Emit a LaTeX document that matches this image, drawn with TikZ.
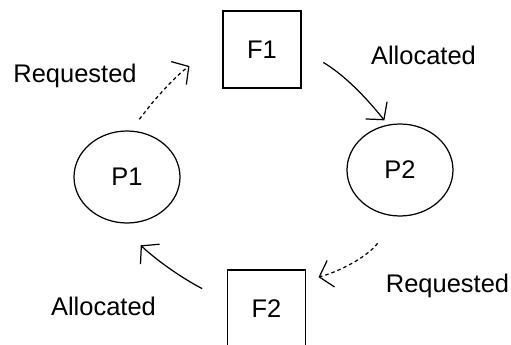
\documentclass[tikz,border=0pt]{standalone}
\usepackage{fontspec}
\setmainfont{Liberation Sans}
\usepackage{tikz}
\usetikzlibrary{positioning}
\usetikzlibrary{shapes.geometric}
\usetikzlibrary{arrows.meta}

\begin{document}
\begin{tikzpicture}[x=0.02cm, y=-0.02cm,
					font=\fontsize{14.5}{17}\selectfont,
					roundnode/.style={ellipse, draw=black, line width=0.7pt, minimum width=2.12cm, minimum height=1.84cm},
					squarenode/.style={rectangle, draw=black, line width=1.1pt, minimum width=1.56cm, minimum height=1.54cm},
					reqline/.style={line width=0.7pt, dash pattern=on 2pt off 1.7pt, -{Straight Barb[length=2.4mm,width=5.5mm]}},
					allocline/.style={line width=0.7pt, -{Straight Barb[length=2.4mm,width=5.5mm]}},
					]
					\useasboundingbox (0,0) rectangle (511,345);
					%Nodes
					\node[squarenode]     (f1)      at  (262,49.5)      {F1};
					\node[squarenode]     (f2)      at  (266.5,308.5)   {F2};
					\node[roundnode]      (p1)      at  (127,177)       {P1};
					\node[roundnode]      (p2)      at  (400,170)       {P2};
					\node                 (label1)  at  (75,76)         {Requested};
					\node                 (label2)  at  (423.5,55)      {Allocated};
					\node                 (label3)  at  (447.5,286)     {Requested};
					\node                 (label4)  at  (103.5,306)     {Allocated};
					
					%Lines
					\draw[reqline, shorten <=0.28cm, shorten >=0.78cm] (p1.85) to[bend left=10] (f1.173);
					\draw[allocline, shorten <=0.5cm, shorten >=0.11cm] (f1.0) to[bend left=10] (p2.105);
					\draw[reqline, shorten <=0.65cm, shorten >=0.25cm] (p2.265) to[bend left=20] (f2.35);
					\draw[allocline, shorten <=0.55cm, shorten >=0.65cm] (f2.170) to[bend left=8] (p1.258);
\end{tikzpicture}
\end{document}
